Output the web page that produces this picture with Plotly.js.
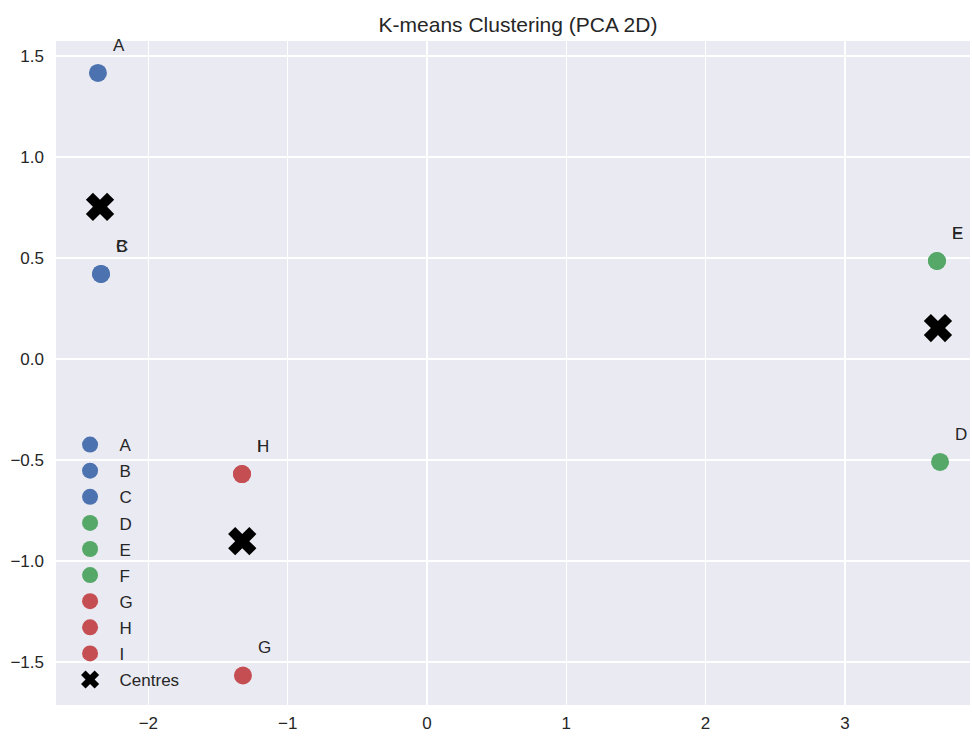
<!DOCTYPE html>
<html>
<head>
<meta charset="utf-8">
<script src="https://cdn.plot.ly/plotly-3.0.1.min.js"></script>
<style>
  html, body { margin: 0; padding: 0; background: #ffffff; }
  #chart { width: 972px; height: 736px; }
</style>
</head>
<body>
<div id="chart"></div>
<script>
// Sample names and their PCA coordinates
const names = ["A", "B", "C", "D", "E", "F", "G", "H", "I"];
const pc1 = [-2.362, -2.340, -2.340, 3.683, 3.661, 3.661, -1.321, -1.328, -1.328];
const pc2 = [1.416, 0.421, 0.421, -0.510, 0.485, 0.485, -1.567, -0.570, -0.570];
const cluster = [0, 0, 0, 1, 1, 1, 2, 2, 2];

// Cluster centres
const centreX = [-2.347, 3.668, -1.326];
const centreY = [0.753, 0.153, -0.902];

const clusterColors = ["#4C72B0", "#55A868", "#C44E52"];
const labelOffset = 0.1;
const FONT = "Liberation Sans, Arial, sans-serif";
const INK = "#262626";

const traces = names.map((n, i) => ({
  type: "scatter",
  mode: "markers",
  x: [pc1[i]],
  y: [pc2[i]],
  name: n,
  legendgroup: n,
  marker: { size: 18, color: clusterColors[cluster[i]] },
  hoverinfo: "name"
}));

traces.push({
  type: "scatter",
  mode: "markers",
  x: centreX,
  y: centreY,
  name: "Centres",
  legendgroup: "Centres",
  marker: { symbol: "x", size: 25, color: "#000000", line: { width: 0 } }
});

const annotations = names.map((n, i) => ({
  x: pc1[i] + labelOffset,
  y: pc2[i] + labelOffset,
  xref: "x",
  yref: "y",
  text: n,
  showarrow: false,
  xanchor: "left",
  yanchor: "bottom",
  xshift: -1,
  yshift: -4,
  font: { family: FONT, size: 17, color: INK }
}));

const axisStyle = {
  showgrid: true,
  gridcolor: "#ffffff",
  gridwidth: 1.5,
  zeroline: false,
  showline: false,
  ticks: "",
  tickfont: { family: FONT, size: 17, color: INK }
};

const layout = {
  width: 972,
  height: 736,
  paper_bgcolor: "#ffffff",
  plot_bgcolor: "#EAEAF2",
  margin: { l: 56, r: 2, t: 41, b: 31 },
  title: {
    text: "K-means Clustering (PCA 2D)",
    x: 0.5 + 5 / 914,
    xref: "paper",
    xanchor: "center",
    y: 1 - 25 / 736,
    yanchor: "middle",
    font: { family: FONT, size: 21, color: INK }
  },
  xaxis: Object.assign({}, axisStyle, {
    range: [-2.663, 3.898],
    tickvals: [-2, -1, 0, 1, 2, 3],
    ticktext: ["\u22122", "\u22121", "0", "1", "2", "3"],
    ticklabelstandoff: 6
  }),
  yaxis: Object.assign({}, axisStyle, {
    range: [-1.713, 1.574],
    tickvals: [-1.5, -1.0, -0.5, 0.0, 0.5, 1.0, 1.5],
    ticktext: ["\u22121.5", "\u22121.0", "\u22120.5", "0.0", "0.5", "1.0", "1.5"],
    ticklabelstandoff: 11
  }),
  showlegend: true,
  legend: {
    x: 0.005,
    y: 0.012,
    xanchor: "left",
    yanchor: "bottom",
    bgcolor: "rgba(0,0,0,0)",
    borderwidth: 0,
    font: { family: FONT, size: 17, color: INK },
    itemsizing: "trace",
    itemwidth: 49,
    tracegroupgap: 1
  },
  annotations: annotations
};

Plotly.newPlot("chart", traces, layout, { displayModeBar: false, staticPlot: true });
</script>
</body>
</html>
